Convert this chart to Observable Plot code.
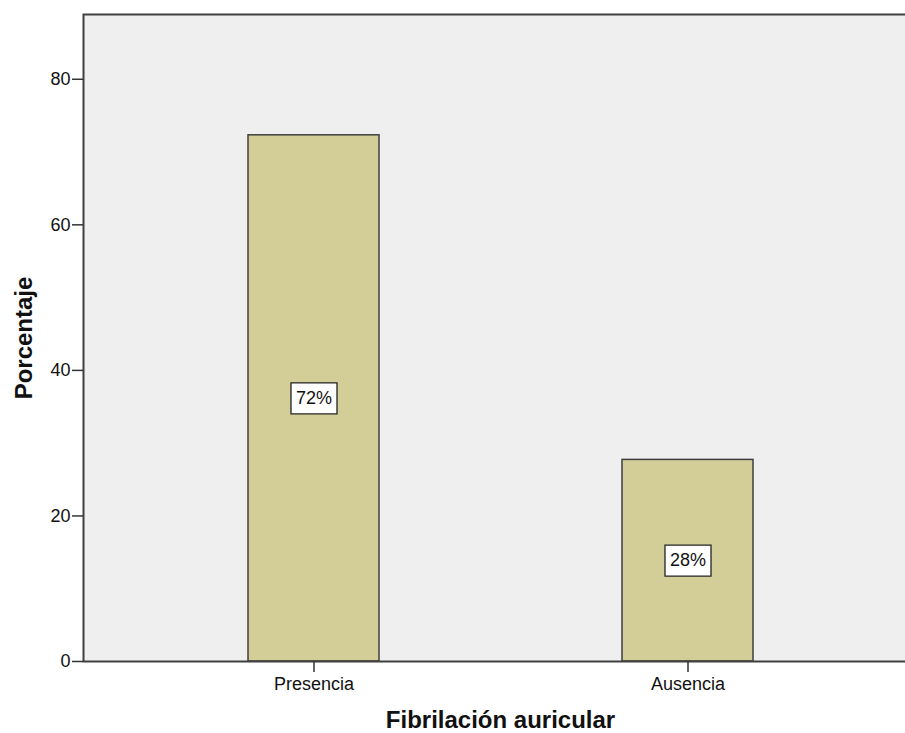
<!DOCTYPE html>
<html>
<head>
<meta charset="utf-8">
<script src="https://cdn.jsdelivr.net/npm/d3@7"></script>
<script src="https://cdn.jsdelivr.net/npm/@observablehq/plot@0.6"></script>
<style>
  html, body { margin: 0; padding: 0; background: #fff; }
  #chart svg { display: block; }
</style>
</head>
<body>
<div id="chart"></div>
<script>
const categories = ["Presencia", "Ausencia"];
const percentages = [72.3, 27.7];
const barLabels = ["72%", "28%"];
const yTicks = [0, 20, 40, 60, 80];
const xTitle = "Fibrilación auricular";
const yTitle = "Porcentaje";

const data = categories.map((c, i) => ({cat: c, value: percentages[i], label: barLabels[i]}));

const labelBox = {
  draw(context) {
    context.rect(-23, -15.5, 46, 31);
  }
};

const chart = Plot.plot({
  width: 905,
  height: 733,
  marginTop: 14,
  marginBottom: 72,
  marginLeft: 83,
  marginRight: -12,
  style: {fontFamily: "'Liberation Sans', Arial, sans-serif", color: "#111", background: "#fff"},
  x: {domain: categories, paddingInner: 0.65, paddingOuter: 0.4373, align: 0.5},
  y: {domain: [0, 88.9]},
  marks: [
    Plot.frame({fill: "#efefef", stroke: "none"}),
    Plot.barY(data, {x: "cat", y: "value", fill: "#d3ce97", stroke: "#3f3f3f", strokeWidth: 1.5}),
    Plot.frame({stroke: "#3f3f3f", strokeWidth: 2}),
    Plot.axisY({ticks: yTicks, tickSize: 11, tickPadding: 2, fontSize: 18, label: null, stroke: "#333", strokeWidth: 1.5}),
    Plot.axisX({tickSize: 11, tickPadding: 5, fontSize: 18, label: null, stroke: "#333", strokeWidth: 1.5}),
    Plot.dot(data, {x: "cat", y: d => d.value / 2, symbol: labelBox, r: 5, fill: "white", stroke: "#222", strokeWidth: 1.3}),
    Plot.text(data, {x: "cat", y: d => d.value / 2, text: "label", fontSize: 18, fill: "#111"}),
    Plot.text([xTitle], {frameAnchor: "bottom", dy: 66, textAnchor: "middle", fontSize: 24, fontWeight: "bold", fill: "#111"}),
    Plot.text([yTitle], {frameAnchor: "left", dx: -59, rotate: -90, textAnchor: "middle", fontSize: 24, fontWeight: "bold", fill: "#111"})
  ]
});
document.getElementById("chart").appendChild(chart);
</script>
</body>
</html>
